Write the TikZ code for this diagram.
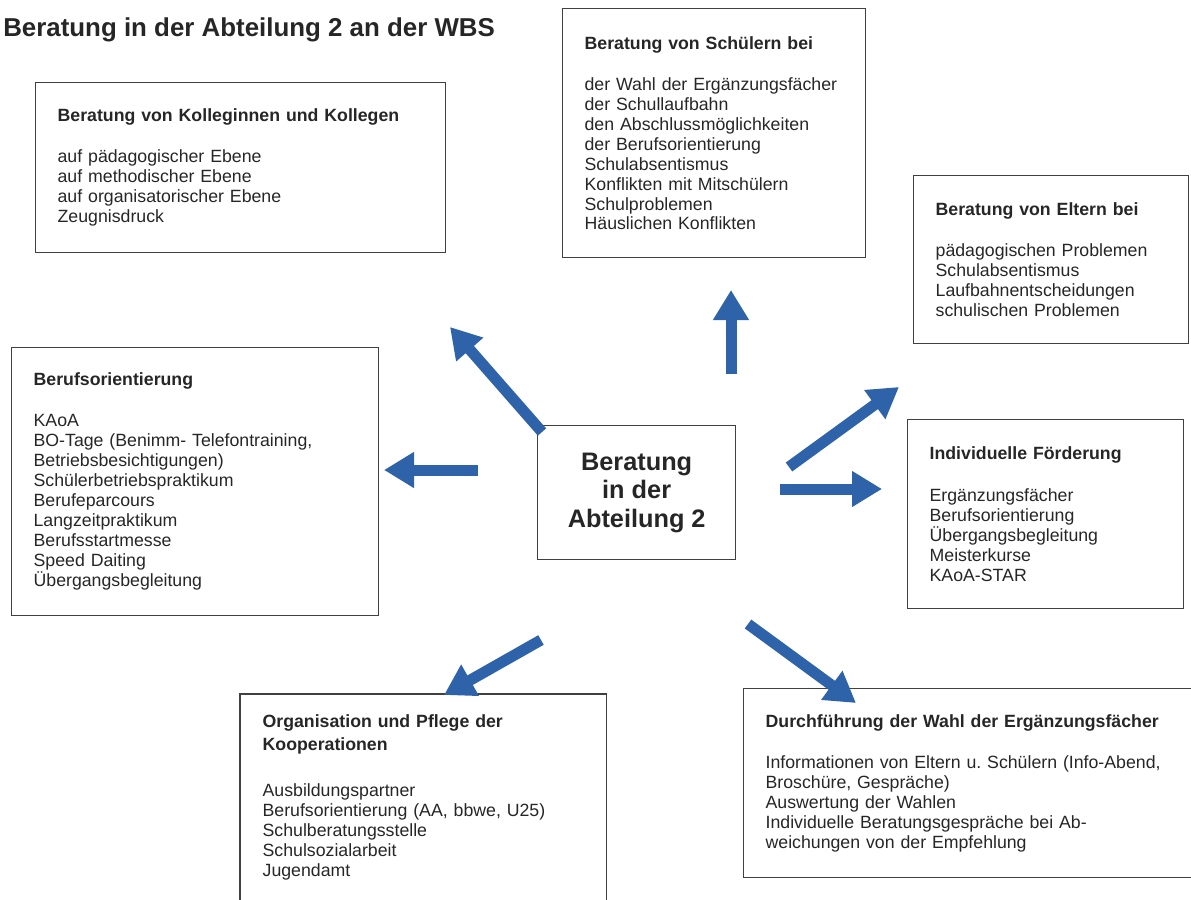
\documentclass[tikz,border=0pt]{standalone}
\usepackage{fontspec}
\setmainfont{Liberation Sans}
\usetikzlibrary{arrows.meta}
\definecolor{pfeilblau}{RGB}{46,99,170}

\begin{document}
\begin{tikzpicture}[x=0.025cm,y=-0.025cm,
    every node/.style={font=\fontsize{12.6}{14.2}\selectfont, text=black!85},
    kasten/.style={draw=black!75, line width=0.9pt, anchor=north west, align=left,
                   inner xsep=0.55cm, inner ysep=0pt},
    pfeil/.style={color=pfeilblau, line width=0.275cm,
                  -{Triangle[length=0.75cm,width=0.85cm]}}]
  \useasboundingbox (0,0) rectangle (1191,900);
  \clip (0,0) rectangle (1191,900);

  \node[anchor=west, inner sep=0pt, font=\fontsize{18.4}{22}\selectfont\bfseries]
       (titel) at (3,30) {Beratung in der Abteilung 2 an der WBS};

  % Mitte
  \node[kasten, align=center, minimum width=4.95cm, minimum height=3.35cm,
        font=\fontsize{18}{20.3}\selectfont\bfseries] (mitte) at (537,425)
       {Beratung\\in der\\Abteilung 2};

  % Kaesten rundherum
  \node[kasten, text width=9.15cm, minimum height=4.25cm] (kolleg) at (35,82)
       {\textbf{Beratung von Kolleginnen und Kollegen}\\[0.53cm]
        auf pädagogischer Ebene\\
        auf methodischer Ebene\\
        auf organisatorischer Ebene\\
        Zeugnisdruck};

  \node[kasten, text width=6.475cm, minimum height=6.225cm] (schueler) at (562,8)
       {\textbf{Beratung von Schülern bei}\\[0.53cm]
        der Wahl der Ergänzungsfächer\\
        der Schullaufbahn\\
        den Abschlussmöglichkeiten\\
        der Berufsorientierung\\
        Schulabsentismus\\
        Konflikten mit Mitschülern\\
        Schulproblemen\\
        Häuslichen Konflikten};

  \node[kasten, text width=5.775cm, minimum height=4.2cm] (eltern) at (913,175)
       {\textbf{Beratung von Eltern bei}\\[0.53cm]
        pädagogischen Problemen\\
        Schulabsentismus\\
        Laufbahnentscheidungen\\
        schulischen Problemen};

  \node[kasten, text width=8.075cm, minimum height=6.7cm] (beruf) at (11,347)
       {\textbf{Berufsorientierung}\\[0.53cm]
        KAoA\\
        BO-Tage (Benimm- Telefontraining,\\
        Betriebsbesichtigungen)\\
        Schülerbetriebspraktikum\\
        Berufeparcours\\
        Langzeitpraktikum\\
        Berufsstartmesse\\
        Speed Daiting\\
        Übergangsbegleitung};

  \node[kasten, text width=5.8cm, minimum height=4.725cm] (foerder) at (907,419)
       {\textbf{Individuelle Förderung}\\[0.53cm]
        Ergänzungsfächer\\
        Berufsorientierung\\
        Übergangsbegleitung\\
        Meisterkurse\\
        KAoA-STAR};

  \node[kasten, text width=10.65cm, minimum height=4.725cm] (wahl) at (743,688)
       {\textbf{Durchführung der Wahl der Ergänzungsfächer}\\[0.53cm]
        Informationen von Eltern u.\ Schülern (Info-Abend,\\
        Broschüre, Gespräche)\\
        Auswertung der Wahlen\\
        Individuelle Beratungsgespräche bei Ab-\\
        weichungen von der Empfehlung};

  % unten abgeschnitten
  \node[kasten, draw=none, text width=8.025cm, inner ysep=0.5cm] (koop) at (240,694)
       {\textbf{Organisation und Pflege der}\\[0.08cm]
        \textbf{Kooperationen}\\[0.65cm]
        Ausbildungspartner\\
        Berufsorientierung (AA, bbwe, U25)\\
        Schulberatungsstelle\\
        Schulsozialarbeit\\
        Jugendamt};
  \draw[draw=black!75, line width=0.9pt] (koop.north west) rectangle ([yshift=-1cm]koop.south east);

  % Pfeile
  \coordinate (p1a) at (542,432); \coordinate (p1b) at (450,327);
  \coordinate (p2a) at (478,470); \coordinate (p2b) at (384,470);
  \coordinate (p3a) at (731,374); \coordinate (p3b) at (731,290);
  \coordinate (p4a) at (789,467); \coordinate (p4b) at (899,387);
  \coordinate (p5a) at (780,489); \coordinate (p5b) at (882,489);
  \coordinate (p6a) at (541,640); \coordinate (p6b) at (444,695);
  \coordinate (p7a) at (748,624); \coordinate (p7b) at (856,703);

  \draw[pfeil] (p1a) -- (p1b);
  \draw[pfeil] (p2a) -- (p2b);
  \draw[pfeil] (p3a) -- (p3b);
  \draw[pfeil] (p4a) -- (p4b);
  \draw[pfeil] (p5a) -- (p5b);
  \draw[pfeil] (p6a) -- (p6b);
  \draw[pfeil] (p7a) -- (p7b);
\end{tikzpicture}
\end{document}
